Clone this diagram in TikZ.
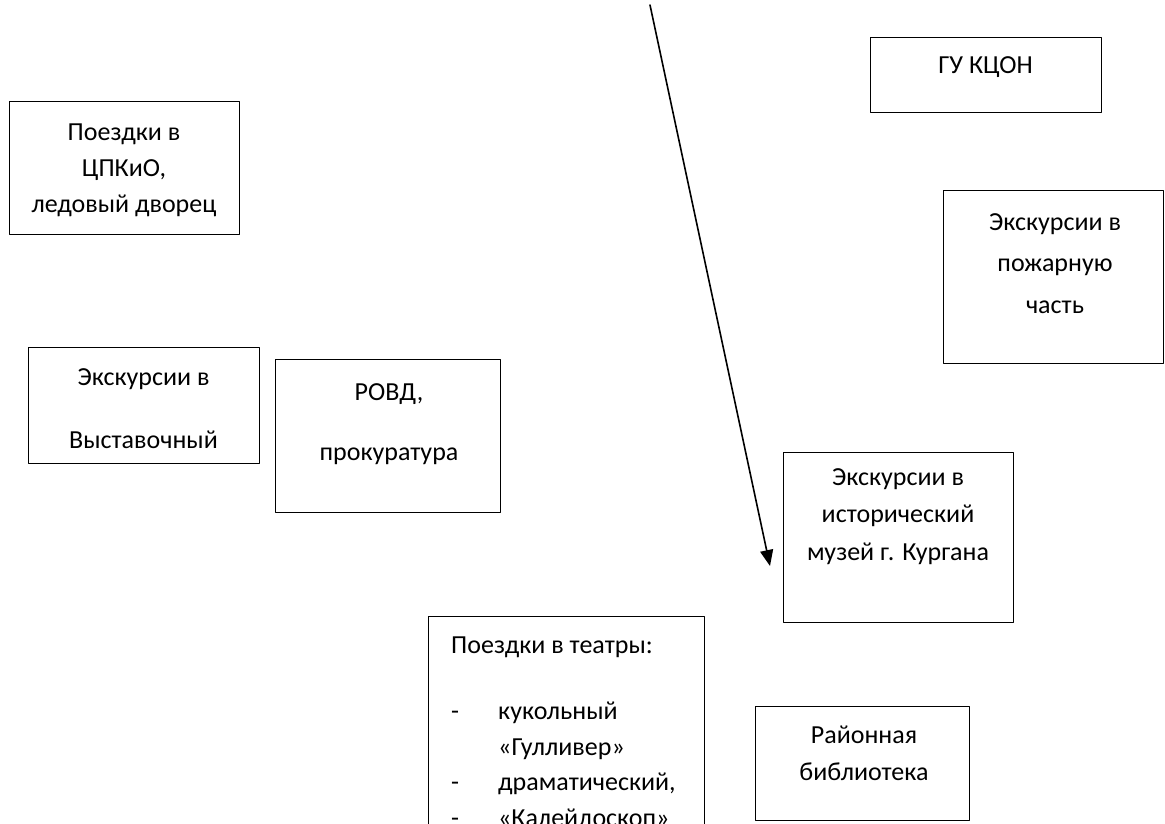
\documentclass[tikz,border=0pt]{standalone}
\usepackage{fontspec}
\setmainfont{Carlito}
\usetikzlibrary{arrows.meta}
\usetikzlibrary{positioning}

\begin{document}
\begin{tikzpicture}[line cap=round,line join=round,>={Triangle[length=16pt,width=13pt]},x=1pt,y=-1pt,
  box/.style={draw,line width=1.3pt,anchor=north west,inner sep=0pt},
  txt/.style={align=center,anchor=base,inner sep=0pt,font=\fontsize{26}{37}\selectfont}]
\clip (0,0) rectangle (1165,823);
% boxes
\node[box,minimum width=230pt,minimum height=133pt] (parks) at (9,101) {};
\node[box,minimum width=231pt,minimum height=75pt] (gu) at (870,37) {};
\node[box,minimum width=220pt,minimum height=173pt] (fire) at (943,190) {};
\node[box,minimum width=231pt,minimum height=116pt] (expo) at (28,347) {};
\node[box,minimum width=225pt,minimum height=153pt] (police) at (275,359) {};
\node[box,minimum width=230pt,minimum height=170pt] (museum) at (783,452) {};
\node[box,minimum width=276pt,minimum height=240pt] (theatre) at (428,616) {};
\node[box,minimum width=214pt,minimum height=114pt] (library) at (755,706) {};
% texts (anchor base = last line)
\node[txt,font=\fontsize{26}{36}\selectfont] (parkstxt) at (124,212) {Поездки в\\ЦПКиО,\\ледовый дворец};
\node[txt] (gutxt) at (985.5,73) {ГУ КЦОН};
\node[txt,font=\fontsize{26}{41.5}\selectfont] (firetxt) at (1055,313) {Экскурсии в\\пожарную\\часть};
\node[txt,font=\fontsize{26}{31.5}\selectfont] (expotxt) at (143.5,448) {Экскурсии в\\[31.5pt]Выставочный};
\node[txt,font=\fontsize{26}{30}\selectfont] (policetxt) at (389,460) {РОВД,\\[30pt]прокуратура};
\node[txt,font=\fontsize{26}{37.5}\selectfont] (museumtxt) at (898,560) {Экскурсии в\\исторический\\музей г. Кургана};
\node[txt,align=left,anchor=base west,font=\fontsize{26}{35.5}\selectfont] (theatretxt) at (451,826) {Поездки в театры:\\[30.5pt]
  \makebox[47pt][l]{-}кукольный\\
  \hspace*{47pt}«Гулливер»\\
  \makebox[47pt][l]{-}драматический,\\
  \makebox[47pt][l]{-}«Калейдоскоп»};
\node[txt] (librarytxt) at (864,780) {Районная\\библиотека};
% arrow
\coordinate (from) at (650,5);
\coordinate (to) at (770,566);
\draw[->,line width=1.6pt] (from) -- (to);
\end{tikzpicture}
\end{document}
